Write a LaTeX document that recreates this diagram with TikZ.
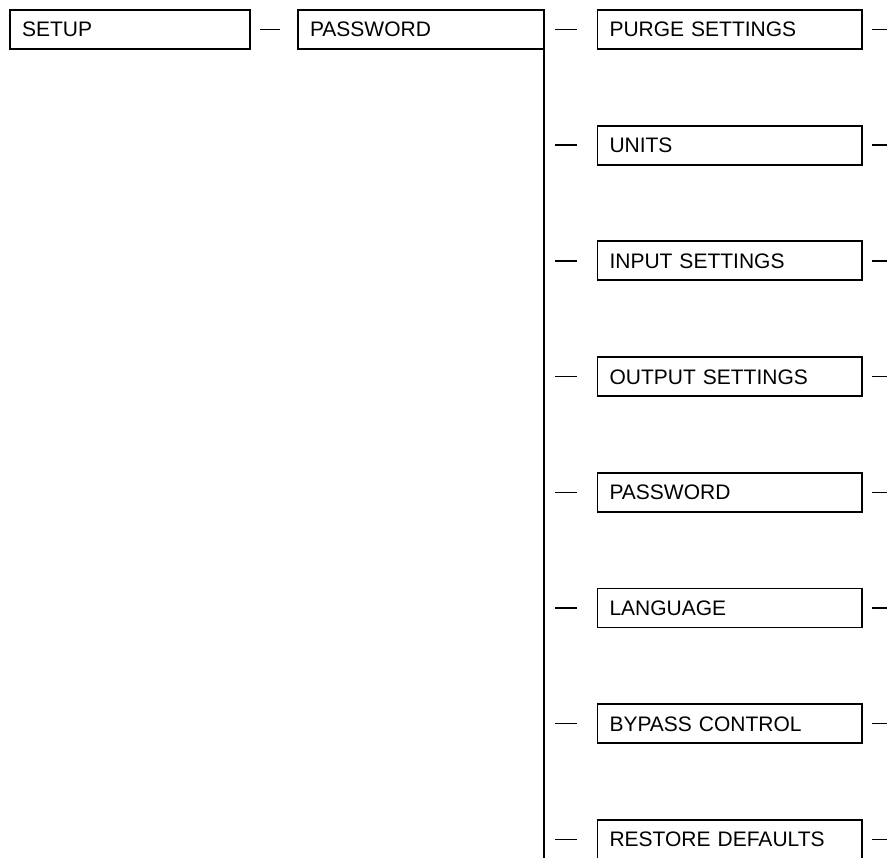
\documentclass[tikz,border=0pt]{standalone}
\usepackage{fontspec}
\setmainfont{Liberation Sans}
\usetikzlibrary{positioning,calc}
\tikzset{
	menubox/.style={draw, line width=1.9pt, outer sep=0pt, anchor=north west, minimum height=39pt, inner xsep=12pt, text height=15pt, text depth=0pt, align=left, font=\fontsize{21}{25}\selectfont},
	tick/.style={color=black, line width=1.4pt},
	trunk/.style={color=black, line width=2.6pt}
}
\begin{document}
\begin{tikzpicture}[x=1pt,y=-1pt]
\useasboundingbox (0,0) rectangle (887,858);

    \node[menubox, text width=216pt] (setup) at (10,10) {SETUP};
    \node[menubox, text width=222pt] (pwd) at (298,10) {PASSWORD};

    \coordinate (trunkend) at (544,875);
    \coordinate (rightend) at (900,0);

    \node[menubox, text width=240.5pt] (purge) at (597.5,10) {PURGE SETTINGS};
    \node[menubox, text width=240.5pt] (units) at (597.5,125.7) {UNITS};
    \node[menubox, text width=240.5pt] (input) at (597.5,241.4) {INPUT SETTINGS};
    \node[menubox, text width=240.5pt] (output) at (597.5,357.1) {OUTPUT SETTINGS};
    \node[menubox, text width=240.5pt] (pass) at (597.5,472.8) {PASSWORD};
    \node[menubox, text width=240.5pt] (lang) at (597.5,588.5) {LANGUAGE};
    \node[menubox, text width=240.5pt] (bypass) at (597.5,704.2) {BYPASS CONTROL};
    \node[menubox, text width=240.5pt] (restore) at (597.5,819.9) {RESTORE DEFAULTS};

    \draw[trunk] (pwd.north east) -- (pwd.north east |- trunkend);

    \draw[tick, shorten <=10pt, shorten >=18pt] (setup.east) -- (pwd.west);

    \draw[tick, shorten <=11pt, shorten >=21pt] (purge.west -| trunkend) -- (purge.west);
    \draw[tick, shorten <=11pt, shorten >=21pt] (units.west -| trunkend) -- (units.west);
    \draw[tick, shorten <=11pt, shorten >=21pt] (input.west -| trunkend) -- (input.west);
    \draw[tick, shorten <=11pt, shorten >=21pt] (output.west -| trunkend) -- (output.west);
    \draw[tick, shorten <=11pt, shorten >=21pt] (pass.west -| trunkend) -- (pass.west);
    \draw[tick, shorten <=11pt, shorten >=21pt] (lang.west -| trunkend) -- (lang.west);
    \draw[tick, shorten <=11pt, shorten >=21pt] (bypass.west -| trunkend) -- (bypass.west);
    \draw[tick, shorten <=11pt, shorten >=21pt] (restore.west -| trunkend) -- (restore.west);

    \draw[tick, shorten <=10pt] (purge.east) -- (purge.east -| rightend);
    \draw[tick, shorten <=10pt] (units.east) -- (units.east -| rightend);
    \draw[tick, shorten <=10pt] (input.east) -- (input.east -| rightend);
    \draw[tick, shorten <=10pt] (output.east) -- (output.east -| rightend);
    \draw[tick, shorten <=10pt] (pass.east) -- (pass.east -| rightend);
    \draw[tick, shorten <=10pt] (lang.east) -- (lang.east -| rightend);
    \draw[tick, shorten <=10pt] (bypass.east) -- (bypass.east -| rightend);
    \draw[tick, shorten <=10pt] (restore.east) -- (restore.east -| rightend);
\end{tikzpicture}
\end{document}
